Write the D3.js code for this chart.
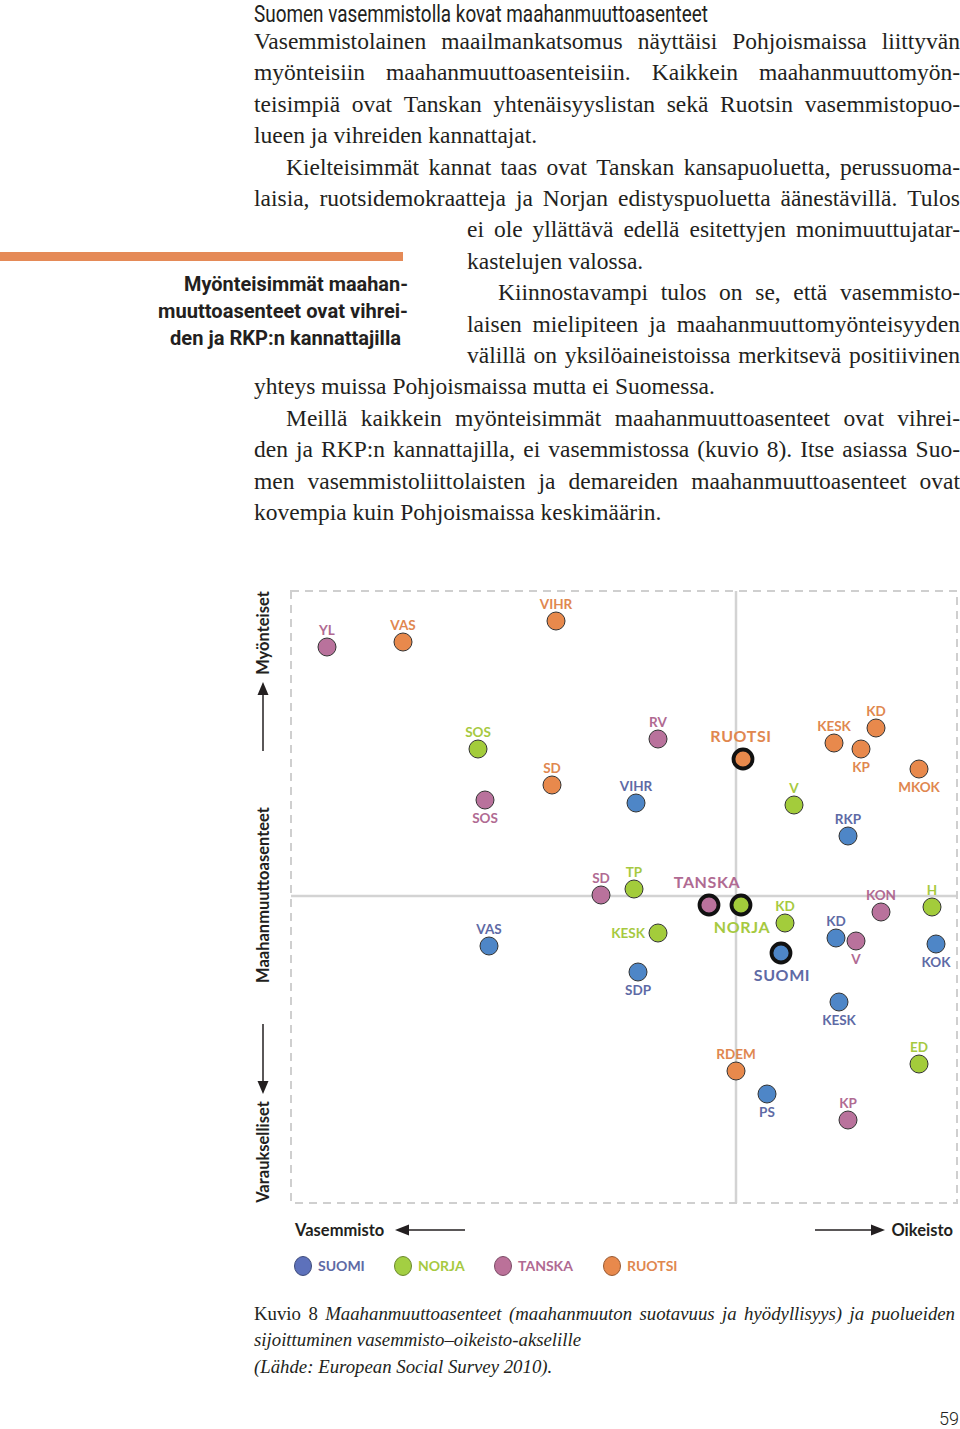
<!DOCTYPE html>
<html>
<head>
<meta charset="utf-8">
<script src="https://cdn.jsdelivr.net/npm/d3@7"></script>
<style>
  body { margin: 0; background: #fff; }
  svg { display: block; }
</style>
</head>
<body>
<script>
// Kuvio 8: puolueiden kannattajat, vasemmisto-oikeisto (x) ja maahanmuuttoasenteet (y)
const countries = ['SUOMI', 'NORJA', 'TANSKA', 'RUOTSI']

const suomiParties = ['VIHR', 'RKP', 'VAS', 'SDP', 'KD', 'KOK', 'KESK', 'PS']
const suomiX = [-1.00, 1.12, -2.47, -0.98, 1.00, 2.00, 1.03, 0.31]
const suomiY = [0.93, 0.60, -0.50, -0.76, -0.42, -0.48, -1.06, -1.98]

const norjaParties = ['SOS', 'V', 'TP', 'KESK', 'KD', 'H', 'ED']
const norjaX = [-2.58, 0.58, -1.02, -0.78, 0.49, 1.96, 1.83]
const norjaY = [1.47, 0.91, 0.07, -0.37, -0.27, -0.11, -1.68]

const tanskaParties = ['YL', 'SOS', 'RV', 'SD', 'KON', 'V', 'KP']
const tanskaX = [-4.09, -2.51, -0.78, -1.35, 1.45, 1.20, 1.12]
const tanskaY = [2.49, 0.96, 1.57, 0.01, -0.16, -0.45, -2.24]

const ruotsiParties = ['VAS', 'VIHR', 'SD', 'KESK', 'KD', 'KP', 'MKOK', 'RDEM']
const ruotsiX = [-3.33, -1.80, -1.84, 0.98, 1.40, 1.25, 1.83, 0.00]
const ruotsiY = [2.54, 2.75, 1.11, 1.53, 1.68, 1.47, 1.27, -1.75]

// maiden keskiarvot (paksureunaiset pallot)
const avgX = [0.45, 0.05, -0.27, 0.07]
const avgY = [-0.57, -0.09, -0.09, 1.37]

const fills = { SUOMI: '#4e86c7', NORJA: '#a3cc3b', TANSKA: '#b9729c', RUOTSI: '#e8894c' }
const legendFills = { SUOMI: '#5d71bb', NORJA: '#a3cf42', TANSKA: '#bb7199', RUOTSI: '#e8894c' }
const inks = { SUOMI: '#5e6aa5', NORJA: '#a6c93f', TANSKA: '#b06a92', RUOTSI: '#e0874f' }

// nimilappujen paikka pallon suhteen (oletus: yläpuolella)
const labelSide = {
  'SUOMI:SDP': 'below', 'SUOMI:KOK': 'below', 'SUOMI:KESK': 'below', 'SUOMI:PS': 'below',
  'TANSKA:SOS': 'below', 'TANSKA:V': 'below',
  'RUOTSI:KP': 'below', 'RUOTSI:MKOK': 'below',
  'NORJA:KESK': 'left',
  'SUOMI:avg': 'below', 'NORJA:avg': 'below'
}

const seriesX = [suomiX, norjaX, tanskaX, ruotsiX]
const seriesY = [suomiY, norjaY, tanskaY, ruotsiY]
const seriesP = [suomiParties, norjaParties, tanskaParties, ruotsiParties]

const points = []
countries.forEach((c, ci) => {
  seriesP[ci].forEach((p, i) => points.push({ country: c, party: p, x: seriesX[ci][i], y: seriesY[ci][i] }))
})
const averages = countries.map((c, i) => ({ country: c, party: c, x: avgX[i], y: avgY[i], avg: true }))

const W = 960, H = 1429
const svg = d3.select('body').append('svg').attr('width', W).attr('height', H)

const SERIF = '"Liberation Serif", "DejaVu Serif", serif'
const SANS = 'Lato, "Open Sans", sans-serif'
const INK = '#231f20'

// ---- tekstirivit ----
const tmp = svg.append('text').attr('x', -1000).attr('y', -1000)
function measure(str, font) {
  tmp.style('font', font).text(str)
  return tmp.node().getComputedTextLength()
}
function spaceWidth(font) {
  return measure('a a', font) - measure('aa', font)
}
function line(parts, x0, x1, yy, justify) {
  const widths = parts.map(p => measure(p.w, p.f))
  const gap = justify && parts.length > 1
    ? (x1 - x0 - d3.sum(widths)) / (parts.length - 1)
    : spaceWidth(parts[0].f)
  let cx = x0
  parts.forEach((p, i) => {
    svg.append('text')
      .attr('x', cx).attr('y', yy)
      .style('font', p.f)
      .attr('fill', INK)
      .text(p.w)
    cx += widths[i] + gap
  })
}
const words = (s, f) => s.split(' ').map(w => ({ w, f }))

svg.append('text')
  .attr('x', 254).attr('y', 21.5)
  .attr('textLength', 454).attr('lengthAdjust', 'spacingAndGlyphs')
  .style('font', '23px Roboto, sans-serif')
  .attr('fill', INK)
  .text('Suomen vasemmistolla kovat maahanmuuttoasenteet')

const BODY = '23.5px ' + SERIF
const bodyLines = [
  ['Vasemmistolainen maailmankatsomus näyttäisi Pohjoismaissa liittyvän', 254, true],
  ['myönteisiin maahanmuuttoasenteisiin. Kaikkein maahanmuuttomyön-', 254, true],
  ['teisimpiä ovat Tanskan yhtenäisyyslistan sekä Ruotsin vasemmistopuo-', 254, true],
  ['lueen ja vihreiden kannattajat.', 254, false],
  ['Kielteisimmät kannat taas ovat Tanskan kansapuoluetta, perussuoma-', 286, true],
  ['laisia, ruotsidemokraatteja ja Norjan edistyspuoluetta äänestävillä. Tulos', 254, true],
  ['ei ole yllättävä edellä esitettyjen monimuuttujatar-', 467, true],
  ['kastelujen valossa.', 467, false],
  ['Kiinnostavampi tulos on se, että vasemmisto-', 498, true],
  ['laisen mielipiteen ja maahanmuuttomyönteisyyden', 467, true],
  ['välillä on yksilöaineistoissa merkitsevä positiivinen', 467, true],
  ['yhteys muissa Pohjoismaissa mutta ei Suomessa.', 254, false],
  ['Meillä kaikkein myönteisimmät maahanmuuttoasenteet ovat vihrei-', 286, true],
  ['den ja RKP:n kannattajilla, ei vasemmistossa (kuvio 8). Itse asiassa Suo-', 254, true],
  ['men vasemmistoliittolaisten ja demareiden maahanmuuttoasenteet ovat', 254, true],
  ['kovempia kuin Pohjoismaissa keskimäärin.', 254, false]
]
bodyLines.forEach(([s, x0, j], i) => line(words(s, BODY), x0, 960, 49 + i * 31.4, j))

// sivupalkki
svg.append('rect').attr('x', 0).attr('y', 252).attr('width', 403).attr('height', 9).attr('fill', '#e58a57')
const pull = [['Myönteisimmät maahan-', 224], ['muuttoasenteet ovat vihrei-', 250], ['den ja RKP:n kannattajilla', 231]]
pull.forEach(([s, w], i) => {
  svg.append('text')
    .attr('x', 408 - w - (i === 2 ? 7 : 0)).attr('y', 291 + i * 27)
    .attr('textLength', w).attr('lengthAdjust', 'spacingAndGlyphs')
    .style('font', 'bold 21px Roboto, sans-serif')
    .attr('fill', INK)
    .text(s)
})

// ---- kuvio ----
const x = d3.scaleLinear().domain([-4.45, 2.21]).range([291, 957])
const y = d3.scaleLinear().domain([-3.07, 3.05]).range([1203, 591])

const plot = svg.append('g')
plot.append('line')
  .attr('x1', x(0)).attr('x2', x(0)).attr('y1', y.range()[1]).attr('y2', y.range()[0])
  .attr('stroke', '#d3d3d3').attr('stroke-width', 2.5)
plot.append('line')
  .attr('x1', x.range()[0]).attr('x2', x.range()[1]).attr('y1', y(0)).attr('y2', y(0))
  .attr('stroke', '#d3d3d3').attr('stroke-width', 2.5)
plot.append('rect')
  .attr('x', x.range()[0]).attr('y', y.range()[1])
  .attr('width', x.range()[1] - x.range()[0]).attr('height', y.range()[0] - y.range()[1])
  .attr('fill', 'none').attr('stroke', '#cfcfcf').attr('stroke-width', 2)
  .attr('stroke-dasharray', '8,6')

function labelFor(d) {
  const key = d.country + ':' + (d.avg ? 'avg' : d.party)
  const side = labelSide[key] || 'above'
  const cx = x(d.x), cy = y(d.y)
  if (side === 'left') return { x: cx - 13, y: cy + 5, anchor: 'end' }
  if (d.avg) return side === 'below'
    ? { x: cx + 1, y: cy + 28, anchor: 'middle' }
    : { x: cx - 2, y: cy - 17, anchor: 'middle' }
  return side === 'below'
    ? { x: cx, y: cy + 23, anchor: 'middle' }
    : { x: cx, y: cy - 12, anchor: 'middle' }
}

const all = points.concat(averages)

plot.selectAll('.lbl')
  .data(all)
  .join('text')
  .attr('class', 'lbl')
  .each(function (d) {
    const l = labelFor(d)
    d3.select(this).attr('x', l.x).attr('y', l.y).attr('text-anchor', l.anchor)
  })
  .style('font', d => d.avg ? 'bold 16px ' + SANS : 'bold 13.5px ' + SANS)
  .attr('letter-spacing', d => d.avg ? 0.6 : 0)
  .attr('fill', d => inks[d.country])
  .text(d => d.party)

plot.selectAll('.pt')
  .data(points)
  .join('circle')
  .attr('class', 'pt')
  .attr('cx', d => x(d.x))
  .attr('cy', d => y(d.y))
  .attr('r', 9)
  .attr('fill', d => fills[d.country])
  .attr('stroke', '#333')
  .attr('stroke-width', 1)

plot.selectAll('.avg')
  .data(averages)
  .join('circle')
  .attr('class', 'avg')
  .attr('cx', d => x(d.x))
  .attr('cy', d => y(d.y))
  .attr('r', 9.5)
  .attr('fill', d => fills[d.country])
  .attr('stroke', '#111')
  .attr('stroke-width', 3.8)

// akselien otsikot ja nuolet
const AX = 'bold 16.5px ' + SANS
function vtext(s, cy) {
  svg.append('text')
    .attr('transform', `translate(268.5, ${cy}) rotate(-90)`)
    .attr('text-anchor', 'middle')
    .style('font', AX).attr('fill', INK)
    .text(s)
}
vtext('Myönteiset', 633)
vtext('Maahanmuuttoasenteet', 895)
vtext('Varaukselliset', 1152)

const arrows = svg.append('g').attr('stroke', INK).attr('stroke-width', 1.5)
arrows.append('line').attr('x1', 263).attr('x2', 263).attr('y1', 751).attr('y2', 692)
arrows.append('line').attr('x1', 263).attr('x2', 263).attr('y1', 1024).attr('y2', 1083)
arrows.append('line').attr('x1', 407).attr('x2', 465).attr('y1', 1230).attr('y2', 1230)
arrows.append('line').attr('x1', 815).attr('x2', 873).attr('y1', 1230).attr('y2', 1230)
const heads = svg.append('g').attr('fill', INK)
heads.append('path').attr('d', 'M263,682 L257.5,695 L268.5,695 Z')
heads.append('path').attr('d', 'M263,1094 L257.5,1081 L268.5,1081 Z')
heads.append('path').attr('d', 'M395,1230 L409,1224.5 L409,1235.5 Z')
heads.append('path').attr('d', 'M885,1230 L871,1224.5 L871,1235.5 Z')

svg.append('text').attr('x', 295).attr('y', 1236).style('font', AX).attr('fill', INK).text('Vasemmisto')
svg.append('text').attr('x', 953).attr('y', 1236).attr('text-anchor', 'end').style('font', AX).attr('fill', INK).text('Oikeisto')

// selite
const legendX = [303, 403, 503, 612]
const legend = svg.append('g')
  .selectAll('g')
  .data(countries)
  .join('g')
  .attr('transform', (d, i) => `translate(${legendX[i]}, 1266)`)
legend.append('ellipse')
  .attr('rx', 8.5).attr('ry', 9.5)
  .attr('fill', d => legendFills[d])
  .attr('stroke', d => d3.color(legendFills[d]).darker(1.2))
  .attr('stroke-width', 1)
legend.append('text')
  .attr('x', 15).attr('y', 5)
  .style('font', 'bold 14px ' + SANS)
  .attr('fill', d => inks[d])
  .text(d => d)

// kuvateksti
const CAP = '18.8px ' + SERIF
const CAPI = 'italic 18.8px ' + SERIF
line([{ w: 'Kuvio', f: CAP }, { w: '8', f: CAP }].concat(
  words('Maahanmuuttoasenteet (maahanmuuton suotavuus ja hyödyllisyys) ja puolueiden', CAPI)), 254, 955, 1320, true)
line(words('sijoittuminen vasemmisto–oikeisto-akselille', CAPI), 254, 955, 1346, false)
line(words('(Lähde: European Social Survey 2010).', CAPI), 254, 955, 1373, false)

svg.append('text')
  .attr('x', 959).attr('y', 1425)
  .attr('text-anchor', 'end')
  .style('font', '300 18px Roboto, sans-serif')
  .attr('fill', INK)
  .text('59')

tmp.remove()
</script>
</body>
</html>
